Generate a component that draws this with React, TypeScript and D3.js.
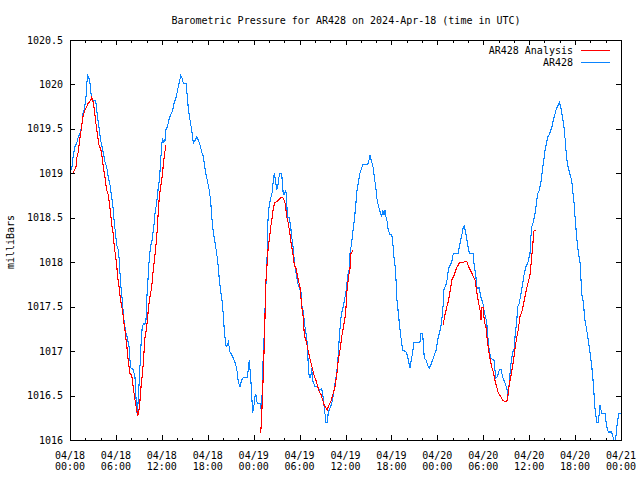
import React from "react";
import * as d3 from "d3";

const TITLE = "Barometric Pressure for AR428 on 2024-Apr-18 (time in UTC)";
const Y_LABEL = "milliBars";
const LEGEND = ["AR428 Analysis", "AR428"];

const yTicks = [1016, 1016.5, 1017, 1017.5, 1018, 1018.5, 1019, 1019.5, 1020, 1020.5];
const yTickLabels = ["1016", "1016.5", "1017", "1017.5", "1018", "1018.5", "1019", "1019.5", "1020", "1020.5"];
const xTickHours = [0, 6, 12, 18, 24, 30, 36, 42, 48, 54, 60, 66, 72];
const xTickDates = ["04/18", "04/18", "04/18", "04/18", "04/19", "04/19", "04/19", "04/19", "04/20", "04/20", "04/20", "04/20", "04/21"];
const xTickTimes = ["00:00", "06:00", "12:00", "18:00", "00:00", "06:00", "12:00", "18:00", "00:00", "06:00", "12:00", "18:00", "00:00"];

// hours since 2024-04-18 00:00 UTC, pressure in mb
const observed: [number, number][] = [
  [0.22, 1019.04], [0.43, 1019.2], [0.65, 1019.3], [0.88, 1019.34], [1.08, 1019.41], [1.31, 1019.45],
  [1.53, 1019.52], [1.66, 1019.66], [1.83, 1019.71], [1.96, 1019.77], [2.09, 1019.86], [2.18, 1020.0],
  [2.31, 1020.1], [2.48, 1020.07], [2.61, 1020.01], [2.74, 1019.9], [2.91, 1019.82], [3.36, 1019.82],
  [3.49, 1019.71], [3.7, 1019.57], [3.83, 1019.49], [4.01, 1019.37], [4.18, 1019.3], [4.35, 1019.23],
  [4.57, 1019.13], [4.8, 1019.07], [5.0, 1018.96], [5.23, 1018.87], [5.45, 1018.73], [5.66, 1018.59],
  [5.79, 1018.44], [5.97, 1018.31], [6.1, 1018.19], [6.31, 1018.14], [6.44, 1018.02], [6.53, 1017.88],
  [6.66, 1017.72], [6.79, 1017.61], [6.96, 1017.44], [7.1, 1017.31], [7.32, 1017.2], [7.49, 1017.15],
  [7.71, 1017.05], [7.84, 1016.9], [7.97, 1016.81], [8.27, 1016.79], [8.49, 1016.71], [8.62, 1016.48],
  [8.72, 1016.3], [8.85, 1016.36], [8.98, 1016.56], [9.15, 1016.84], [9.28, 1017.07], [9.41, 1017.24],
  [9.58, 1017.31], [9.76, 1017.3], [9.93, 1017.35], [10.02, 1017.55], [10.1, 1017.69], [10.23, 1017.86],
  [10.36, 1018.05], [10.55, 1018.19], [10.68, 1018.22], [10.81, 1018.31], [10.98, 1018.42], [11.11, 1018.55],
  [11.24, 1018.62], [11.41, 1018.73], [11.54, 1018.85], [11.67, 1018.92], [11.76, 1019.02], [11.89, 1019.2],
  [12.06, 1019.39], [12.28, 1019.35], [12.41, 1019.37], [12.54, 1019.49], [12.71, 1019.52], [12.98, 1019.62],
  [13.16, 1019.66], [13.42, 1019.71], [13.63, 1019.8], [13.85, 1019.85], [14.02, 1019.92], [14.24, 1020.01],
  [14.47, 1020.1], [14.67, 1020.07], [14.81, 1020.01], [15.16, 1020.01], [15.33, 1019.86], [15.46, 1019.73],
  [15.68, 1019.6], [15.9, 1019.49], [16.11, 1019.34], [16.33, 1019.37], [16.56, 1019.41], [16.77, 1019.37],
  [16.99, 1019.32], [17.21, 1019.24], [17.42, 1019.19], [17.64, 1019.06], [17.73, 1019.0], [17.94, 1018.92],
  [18.2, 1018.81], [18.39, 1018.68], [18.52, 1018.51], [18.73, 1018.34], [18.95, 1018.22], [19.17, 1018.1],
  [19.38, 1017.95], [19.51, 1017.8], [19.69, 1017.67], [19.9, 1017.55], [20.03, 1017.41], [20.16, 1017.24],
  [20.35, 1017.07], [20.48, 1017.05], [20.69, 1017.1], [20.91, 1016.99], [21.13, 1016.96], [21.34, 1016.92],
  [21.56, 1016.87], [21.78, 1016.81], [21.99, 1016.65], [22.21, 1016.6], [22.44, 1016.68], [22.65, 1016.7],
  [23.17, 1016.7], [23.3, 1016.8], [23.43, 1016.9], [23.61, 1016.7], [23.74, 1016.53], [23.85, 1016.3],
  [24.04, 1016.39], [24.17, 1016.49], [24.3, 1016.51], [24.47, 1016.41], [24.83, 1016.41], [24.92, 1016.36],
  [25.05, 1016.38], [25.18, 1016.73], [25.26, 1016.99], [25.39, 1017.2], [25.48, 1017.46], [25.61, 1017.8],
  [25.7, 1017.75], [25.79, 1018.31], [25.91, 1018.55], [26.04, 1018.64], [26.23, 1018.72], [26.4, 1018.78],
  [26.57, 1018.92], [26.7, 1019.0], [26.88, 1018.9], [27.01, 1018.81], [27.14, 1018.85], [27.31, 1018.96],
  [27.44, 1019.0], [27.66, 1019.0], [27.79, 1018.85], [27.87, 1018.76], [28.0, 1018.76], [28.19, 1018.81],
  [28.32, 1018.72], [28.39, 1018.51], [28.66, 1018.5], [28.84, 1018.4], [28.97, 1018.28], [29.1, 1018.22],
  [29.27, 1018.06], [29.4, 1017.95], [29.53, 1017.88], [29.7, 1017.8], [29.83, 1017.74], [30.05, 1017.69],
  [30.18, 1017.66], [30.28, 1017.52], [30.49, 1017.44], [30.71, 1017.27], [30.93, 1017.15], [31.06, 1017.01],
  [31.14, 1016.81], [31.27, 1016.7], [31.45, 1016.7], [31.58, 1016.81], [31.71, 1016.67], [32.01, 1016.6],
  [32.31, 1016.6], [32.58, 1016.56], [32.89, 1016.58], [33.1, 1016.47], [33.23, 1016.36], [33.45, 1016.2],
  [33.62, 1016.2], [33.75, 1016.31], [33.97, 1016.36], [34.2, 1016.41], [34.41, 1016.5], [34.63, 1016.64],
  [34.85, 1016.75], [35.06, 1016.96], [35.19, 1017.16], [35.37, 1017.35], [35.5, 1017.43], [35.71, 1017.5],
  [35.94, 1017.61], [36.16, 1017.72], [36.24, 1017.83], [36.5, 1017.93], [36.59, 1018.1], [36.81, 1018.22],
  [36.94, 1018.33], [37.11, 1018.44], [37.24, 1018.55], [37.37, 1018.67], [37.46, 1018.78], [37.59, 1018.85],
  [37.73, 1018.92], [37.89, 1019.0], [38.12, 1019.06], [38.25, 1019.1], [38.9, 1019.1], [39.07, 1019.15],
  [39.2, 1019.2], [39.42, 1019.13], [39.63, 1019.06], [39.76, 1018.96], [39.95, 1018.85], [40.08, 1018.73],
  [40.21, 1018.67], [40.38, 1018.61], [40.51, 1018.57], [40.73, 1018.51], [40.86, 1018.59], [41.03, 1018.53],
  [41.16, 1018.59], [41.29, 1018.51], [41.46, 1018.45], [41.59, 1018.36], [41.82, 1018.31], [42.04, 1018.31],
  [42.17, 1018.23], [42.25, 1018.14], [42.38, 1018.02], [42.47, 1017.97], [42.6, 1017.8], [42.69, 1017.61],
  [42.9, 1017.43], [43.12, 1017.24], [43.25, 1017.15], [43.47, 1017.01], [43.77, 1017.0], [43.99, 1016.98],
  [44.21, 1016.9], [44.43, 1016.81], [44.56, 1016.88], [44.78, 1016.99], [44.95, 1017.1], [45.73, 1017.1],
  [45.86, 1017.2], [46.09, 1017.2], [46.17, 1017.07], [46.3, 1016.92], [46.52, 1016.9], [46.74, 1016.84],
  [46.95, 1016.81], [47.17, 1016.85], [47.47, 1016.92], [47.83, 1017.01], [48.13, 1017.16], [48.44, 1017.26],
  [48.7, 1017.44], [48.87, 1017.69], [49.22, 1017.77], [49.43, 1017.91], [49.56, 1017.95], [49.88, 1018.0],
  [50.09, 1018.1], [50.74, 1018.1], [50.87, 1018.17], [51.05, 1018.25], [51.26, 1018.33], [51.39, 1018.4],
  [51.52, 1018.41], [51.75, 1018.31], [51.92, 1018.22], [52.18, 1018.1], [52.7, 1018.1], [52.79, 1017.99],
  [53.05, 1017.83], [53.14, 1017.71], [53.48, 1017.71], [53.67, 1017.61], [53.93, 1017.55], [54.14, 1017.44],
  [54.45, 1017.33], [54.58, 1017.18], [54.71, 1017.05], [54.97, 1016.92], [55.4, 1016.9], [55.53, 1016.79],
  [55.66, 1016.7], [55.84, 1016.71], [56.1, 1016.79], [56.32, 1016.79], [56.54, 1016.71], [56.71, 1016.67],
  [56.93, 1016.62], [57.14, 1016.56], [57.27, 1016.5], [57.4, 1016.65], [57.59, 1016.84], [57.85, 1016.99],
  [58.02, 1017.01], [58.15, 1017.16], [58.37, 1017.33], [58.5, 1017.5], [58.71, 1017.54], [58.9, 1017.63],
  [59.15, 1017.76], [59.37, 1017.88], [59.59, 1017.95], [59.85, 1018.0], [60.11, 1018.1], [60.24, 1018.3],
  [60.33, 1018.4], [60.54, 1018.45], [60.76, 1018.55], [60.98, 1018.67], [61.06, 1018.76], [61.32, 1018.81],
  [61.58, 1018.92], [61.76, 1019.06], [61.94, 1019.17], [62.07, 1019.26], [62.29, 1019.35], [62.42, 1019.41],
  [62.59, 1019.43], [62.94, 1019.51], [63.11, 1019.58], [63.5, 1019.71], [63.94, 1019.8], [64.12, 1019.75],
  [64.38, 1019.62], [64.55, 1019.52], [64.59, 1019.45], [64.77, 1019.35], [64.81, 1019.26], [64.94, 1019.15],
  [65.11, 1019.06], [65.43, 1018.96], [65.56, 1018.92], [65.69, 1018.81], [65.86, 1018.67], [65.99, 1018.51],
  [66.21, 1018.28], [66.42, 1018.11], [66.64, 1018.0], [66.73, 1017.88], [66.86, 1017.65], [67.07, 1017.55],
  [67.29, 1017.35], [67.51, 1017.24], [67.73, 1017.12], [67.95, 1016.98], [68.17, 1016.84], [68.38, 1016.64],
  [68.6, 1016.36], [68.82, 1016.2], [69.03, 1016.2], [69.26, 1016.39], [69.48, 1016.3], [69.91, 1016.3],
  [70.13, 1016.15], [70.34, 1016.09], [70.78, 1016.09], [70.99, 1016.02], [71.22, 1015.95], [71.35, 1016.05],
  [71.52, 1016.2], [71.74, 1016.3], [72.0, 1016.3],
];

const analysisA: [number, number][] = [
  [0.39, 1019.0], [0.78, 1019.07], [0.88, 1019.17], [1.08, 1019.24], [1.22, 1019.35], [1.4, 1019.45],
  [1.53, 1019.54], [1.74, 1019.66], [1.96, 1019.71], [2.18, 1019.75], [2.39, 1019.79], [2.7, 1019.82],
  [2.84, 1019.86], [3.04, 1019.8], [3.18, 1019.71], [3.36, 1019.58], [3.57, 1019.45], [3.79, 1019.32],
  [4.05, 1019.26], [4.22, 1019.17], [4.35, 1019.07], [4.57, 1018.96], [4.7, 1018.87], [4.8, 1018.81],
  [5.0, 1018.76], [5.14, 1018.67], [5.32, 1018.53], [5.49, 1018.4], [5.66, 1018.31], [5.79, 1018.17],
  [5.97, 1018.06], [6.1, 1017.97], [6.23, 1017.83], [6.44, 1017.71], [6.53, 1017.63], [6.66, 1017.55],
  [6.89, 1017.44], [7.06, 1017.31], [7.23, 1017.2], [7.41, 1017.07], [7.62, 1016.88], [7.84, 1016.75],
  [8.06, 1016.73], [8.19, 1016.64], [8.36, 1016.53], [8.53, 1016.43], [8.72, 1016.34], [8.85, 1016.27],
  [9.02, 1016.34], [9.15, 1016.45], [9.28, 1016.6], [9.5, 1016.77], [9.67, 1016.99], [9.8, 1017.15],
  [10.02, 1017.27], [10.23, 1017.46], [10.36, 1017.57], [10.68, 1017.72], [10.88, 1017.91], [11.02, 1018.02],
  [11.2, 1018.16], [11.33, 1018.28], [11.46, 1018.45], [11.54, 1018.59], [11.67, 1018.73], [11.85, 1018.85],
  [12.02, 1018.95], [12.19, 1019.09], [12.32, 1019.2], [12.54, 1019.32],
];

const analysisB: [number, number][] = [
  [24.92, 1016.08], [25.05, 1016.25], [25.13, 1016.48], [25.26, 1016.73], [25.35, 1016.99], [25.44, 1017.21],
  [25.52, 1017.55], [25.61, 1017.8], [25.7, 1017.88], [25.79, 1018.06], [25.91, 1018.17], [26.04, 1018.25],
  [26.23, 1018.4], [26.44, 1018.51], [26.57, 1018.62], [26.79, 1018.67], [27.01, 1018.68], [27.22, 1018.7],
  [27.44, 1018.72], [27.66, 1018.73], [27.87, 1018.72], [28.09, 1018.67], [28.22, 1018.59], [28.32, 1018.51],
  [28.53, 1018.44], [28.66, 1018.36], [28.75, 1018.31], [28.88, 1018.22], [29.05, 1018.14], [29.18, 1018.06],
  [29.31, 1017.97], [29.53, 1017.93], [29.7, 1017.86], [29.83, 1017.8], [30.05, 1017.72], [30.28, 1017.5],
  [30.49, 1017.37], [30.62, 1017.18], [30.84, 1017.12], [31.06, 1017.03], [31.23, 1016.96], [31.45, 1016.88],
  [31.66, 1016.81], [31.88, 1016.73], [32.14, 1016.67], [32.37, 1016.6], [32.58, 1016.54], [32.8, 1016.51],
  [33.02, 1016.45], [33.23, 1016.39], [33.45, 1016.36], [33.62, 1016.34], [33.81, 1016.39], [34.07, 1016.43],
  [34.24, 1016.48], [34.41, 1016.53], [34.63, 1016.6], [34.85, 1016.73], [35.06, 1016.9], [35.28, 1017.01],
  [35.5, 1017.16], [35.71, 1017.26], [35.94, 1017.38], [36.07, 1017.5], [36.16, 1017.65], [36.37, 1017.82],
  [36.59, 1017.93], [36.72, 1018.1], [37.02, 1018.14],
];

const analysisC: [number, number][] = [
  [48.74, 1017.3], [48.87, 1017.35], [49.0, 1017.41], [49.22, 1017.49], [49.43, 1017.56], [49.75, 1017.71],
  [49.88, 1017.8], [50.22, 1017.86], [50.53, 1017.94], [50.87, 1017.99], [51.39, 1018.0], [51.84, 1018.01],
  [52.18, 1017.93], [52.49, 1017.88], [52.92, 1017.8], [53.22, 1017.63], [53.35, 1017.56], [53.58, 1017.46],
  [53.71, 1017.35], [53.84, 1017.49], [54.01, 1017.49], [54.14, 1017.33], [54.36, 1017.27], [54.53, 1017.12],
  [54.71, 1017.01], [54.88, 1016.92], [55.1, 1016.82], [55.31, 1016.77], [55.53, 1016.67], [55.75, 1016.6],
  [55.96, 1016.53], [56.19, 1016.5], [56.54, 1016.45], [56.84, 1016.43], [57.06, 1016.43], [57.19, 1016.47],
  [57.32, 1016.58], [57.5, 1016.67], [57.72, 1016.77], [57.93, 1016.88], [58.15, 1017.03], [58.37, 1017.15],
  [58.58, 1017.24], [58.8, 1017.39], [59.02, 1017.43], [59.23, 1017.52], [59.45, 1017.61], [59.68, 1017.71],
  [59.89, 1017.78], [60.11, 1017.86], [60.24, 1017.97], [60.33, 1018.06], [60.46, 1018.17], [60.54, 1018.28],
  [60.63, 1018.35], [60.89, 1018.36],
];

const RED = "#ff0000";
const BLUE = "#0a84ff";
const FONT = "'DejaVu Sans Mono', monospace";

export default function App() {
  const W = 640, H = 480;
  const L = 70, R = 621, T = 40, B = 440;
  const x = d3.scaleLinear().domain([0, 72]).range([L, R]);
  const y = d3.scaleLinear().domain([1016, 1020.5]).range([B, T]);
  const line = d3.line<[number, number]>().x((d) => x(d[0])).y((d) => y(d[1]));
  const minorHours = d3.range(0, 73, 2).filter((h) => h % 6 !== 0);

  return (
    <svg width={W} height={H} viewBox={`0 0 ${W} ${H}`} style={{ display: "block", position: "absolute", left: 0, top: 0, background: "#fff" }} fontFamily={FONT} fontSize={10}>
      <defs>
        <clipPath id="plotclip">
          <rect x={L} y={T} width={R - L} height={B - T} />
        </clipPath>
      </defs>
      <rect x={0} y={0} width={W} height={H} fill="#fff" />
      <text x={346} y={24} textAnchor="middle" fill="#000">{TITLE}</text>

      <g stroke="#000" strokeWidth={1} shapeRendering="crispEdges">
        {xTickHours.map((h, i) => (
          <g key={"xt" + i}>
            <line x1={Math.round(x(h)) + 0.5} x2={Math.round(x(h)) + 0.5} y1={B} y2={B - 5} />
            <line x1={Math.round(x(h)) + 0.5} x2={Math.round(x(h)) + 0.5} y1={T} y2={T + 5} />
          </g>
        ))}
        {minorHours.map((h, i) => (
          <g key={"xm" + i}>
            <line x1={Math.round(x(h)) + 0.5} x2={Math.round(x(h)) + 0.5} y1={B} y2={B - 2.5} />
            <line x1={Math.round(x(h)) + 0.5} x2={Math.round(x(h)) + 0.5} y1={T} y2={T + 2.5} />
          </g>
        ))}
        {yTicks.map((v, i) => (
          <g key={"yt" + i}>
            <line x1={L} x2={L + 5} y1={Math.round(y(v)) + 0.5} y2={Math.round(y(v)) + 0.5} />
            <line x1={R} x2={R - 5} y1={Math.round(y(v)) + 0.5} y2={Math.round(y(v)) + 0.5} />
          </g>
        ))}
      </g>

      {yTicks.map((v, i) => (
        <text key={"yl" + i} x={63} y={y(v) + 3.5} textAnchor="end" fill="#000">{yTickLabels[i]}</text>
      ))}
      {xTickHours.map((h, i) => (
        <g key={"xl" + i}>
          <text x={x(h)} y={458.5} textAnchor="middle" fill="#000">{xTickDates[i]}</text>
          <text x={x(h)} y={469.5} textAnchor="middle" fill="#000">{xTickTimes[i]}</text>
        </g>
      ))}
      <text transform="translate(14,242) rotate(-90)" textAnchor="middle" fill="#000">{Y_LABEL}</text>

      <g clipPath="url(#plotclip)" fill="none" strokeWidth={1.1} shapeRendering="crispEdges">
        <path d={line(observed) || ""} stroke={BLUE} />
        <path d={line(analysisA) || ""} stroke={RED} />
        <path d={line(analysisB) || ""} stroke={RED} />
        <path d={line(analysisC) || ""} stroke={RED} />
      </g>

      <rect x={L + 0.5} y={T + 0.5} width={R - L} height={B - T} fill="none" stroke="#000" strokeWidth={1} shapeRendering="crispEdges" />

      <text x={573} y={54} textAnchor="end" fill="#000">{LEGEND[0]}</text>
      <line x1={581} x2={610} y1={50.5} y2={50.5} stroke={RED} strokeWidth={1} shapeRendering="crispEdges" />
      <text x={573} y={66} textAnchor="end" fill="#000">{LEGEND[1]}</text>
      <line x1={581} x2={610} y1={62.5} y2={62.5} stroke={BLUE} strokeWidth={1} shapeRendering="crispEdges" />
    </svg>
  );
}
